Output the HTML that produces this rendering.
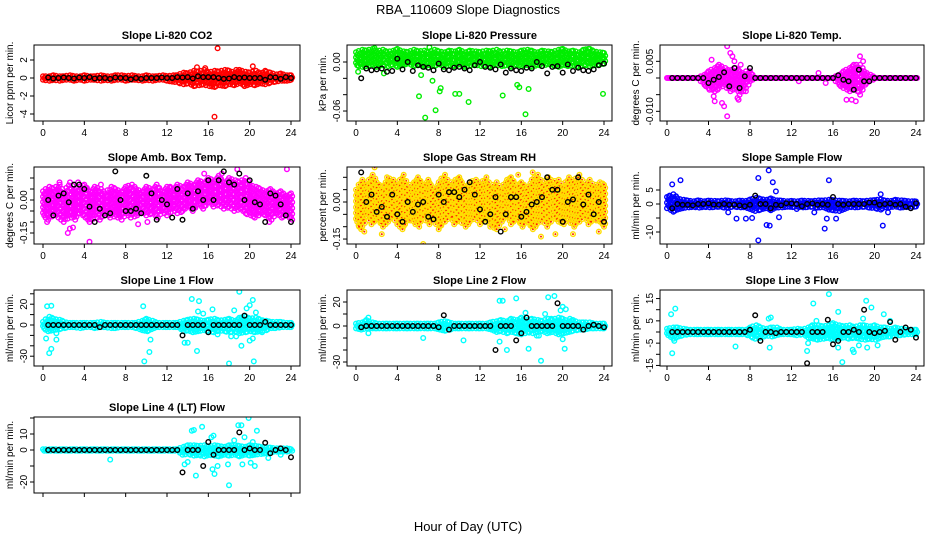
<!DOCTYPE html>
<html><head><meta charset="utf-8"><style>
html,body{margin:0;padding:0;background:#fff}
svg{display:block}
text{font-family:"Liberation Sans",Arial,sans-serif}
</style></head><body>
<svg id="chart" width="936" height="540" viewBox="0 0 936 540" xmlns="http://www.w3.org/2000/svg">
<text x="468" y="14" text-anchor="middle" font-size="13">RBA_110609  Slope Diagnostics</text>
<text x="468" y="531" text-anchor="middle" font-size="13">Hour of Day (UTC)</text>
</svg>
<script>
const T=[0,0.5,1,1.5,2,2.5,3,3.5,4,4.5,5,5.5,6,6.5,7,7.5,8,8.5,9,9.5,10,10.5,11,11.5,12,12.5,13,13.5,14,14.5,15,15.5,16,16.5,17,17.5,18,18.5,19,19.5,20,20.5,21,21.5,22,22.5,23,23.5,24];
const xTicks=[0,4,8,12,16,20,24];
// P1 CO2
const p1Hi=[0.2,0.2,0.3,0.2,0.2,0.3,0.2,0.2,0.3,0.2,0.2,0.3,0.2,0.2,0.3,0.3,0.2,0.3,0.2,0.2,0.3,0.2,0.2,0.3,0.2,0.3,0.3,0.6,0.5,0.8,0.7,0.9,0.6,0.8,0.7,0.9,0.8,0.6,0.9,0.7,0.6,0.8,0.5,0.7,0.6,0.4,0.5,0.3,0.3];
const p1Mid=[0,0.1,-0.1,0,0.1,-0.1,0,0.1,-0.1,0,0.1,-0.1,0,0.1,-0.1,0,0.1,-0.1,0,0.1,-0.1,0,0.1,-0.1,0,0.1,-0.1,0.3,-0.3,0.2,-0.4,0.3,-0.2,0.4,-0.3,0.2,-0.4,0.3,-0.2,0.3,-0.3,0.2,-0.2,0.3,-0.2,0.1,-0.1,0.1,0];
const p1Lo=[-0.2,-0.3,-0.2,-0.3,-0.2,-0.2,-0.3,-0.2,-0.3,-0.2,-0.2,-0.3,-0.2,-0.3,-0.2,-0.2,-0.3,-0.2,-0.2,-0.3,-0.2,-0.3,-0.2,-0.2,-0.3,-0.4,-0.5,-0.7,-0.6,-0.9,-0.8,-0.7,-0.9,-1.0,-0.8,-0.9,-0.7,-0.8,-0.6,-0.9,-0.7,-0.8,-0.6,-0.7,-0.5,-0.4,-0.3,-0.3,-0.2];
const p1Out=[[16.9,3.3],[16.6,-4.3],[14.9,1.2],[20.3,1.3],[21.5,0.8],[15.7,1.1],[13.8,0.5],[18.7,0.9]];
const p1Blk=[null,0.05,-0.05,0,0.05,0,-0.05,0.05,0,0.1,-0.05,0,0,-0.1,0.05,0,0,-0.15,0,-0.1,0,0,0,0.05,0,0,0.1,0.05,0.1,-0.05,0.2,0.1,0.1,0.1,0,-0.1,-0.05,0.1,0,0.05,0,0,0,-0.2,0.1,0.05,-0.1,0.1,0];
// P2 Pressure
const p2Hi=[0.012,0.015,0.014,0.016,0.013,0.015,0.012,0.014,0.016,0.013,0.012,0.015,0.013,0.014,0.012,0.015,0.013,0.012,0.014,0.013,0.015,0.012,0.014,0.013,0.012,0.014,0.013,0.015,0.012,0.014,0.013,0.012,0.014,0.015,0.013,0.012,0.014,0.013,0.012,0.015,0.016,0.013,0.014,0.012,0.015,0.016,0.013,0.012,0.011];
const p2Mid=[0.004,0.006,0.003,0.005,0.004,0.006,0.003,0.005,0.004,0.006,0.003,0.005,0.004,0.005,0.003,0.006,0.004,0.005,0.003,0.006,0.004,0.005,0.003,0.006,0.004,0.005,0.003,0.004,0.006,0.003,0.005,0.004,0.006,0.003,0.005,0.004,0.006,0.003,0.005,0.004,0.006,0.003,0.005,0.004,0.006,0.003,0.005,0.004,0.005];
const p2Lo=[-0.004,-0.006,-0.005,-0.003,-0.006,-0.004,-0.005,-0.003,-0.006,-0.004,-0.002,-0.005,-0.003,-0.006,-0.004,-0.005,-0.003,-0.006,-0.004,-0.005,-0.003,-0.006,-0.004,-0.003,-0.005,-0.004,-0.006,-0.003,-0.005,-0.004,-0.006,-0.003,-0.005,-0.004,-0.006,-0.003,-0.005,-0.002,-0.004,-0.006,-0.003,-0.005,-0.004,-0.006,-0.003,-0.005,-0.004,-0.003,-0.002];
const p2Out=[[6.7,-0.068],[7.7,-0.059],[6.1,-0.042],[8.2,-0.032],[8.1,-0.036],[7.4,-0.023],[9.6,-0.039],[10.0,-0.039],[10.9,-0.049],[14.2,-0.041],[16.4,-0.064],[15.6,-0.028],[15.8,-0.031],[16.7,-0.033],[23.9,-0.039],[7.1,0.018],[1.8,0.017],[17.0,0.014],[0.2,-0.012],[2.7,-0.014],[6.3,-0.016],[22.5,0.016]];
const p2Blk=[null,-0.02,-0.008,-0.01,-0.009,-0.008,-0.012,-0.011,0.004,-0.009,0.0,-0.011,-0.004,-0.006,-0.007,-0.01,-0.002,-0.009,-0.01,-0.007,-0.006,-0.008,-0.01,-0.004,0.0,-0.006,-0.007,-0.009,-0.003,-0.013,-0.008,-0.01,-0.011,-0.007,-0.008,0.0,-0.005,-0.014,-0.006,-0.005,-0.013,-0.003,-0.011,-0.007,-0.01,-0.011,-0.009,-0.004,-0.002];
// P3 Temp
const p3Hi=[0,0,0,0,0,0,0,0.001,0.002,0.003,0.004,0.003,0.002,0.003,0.002,0.001,0.002,0,0,0,0,0,0,0,0,0,0,0,0,0,0,0,0,0.001,0.002,0.003,0.004,0.004,0.002,0.001,0,0,0,0,0,0,0,0,0];
const p3Mid=[0,0,0,0,0,0,0,-0.001,0.001,-0.001,0.001,0.0015,-0.001,0.001,-0.002,0.002,0.001,0,0,0,0,0,0,0,0,0,0,0,0,0,0,0,0,0.001,-0.001,0.001,-0.002,0.001,0.002,-0.001,0,0,0,0,0,0,0,0,0];
const p3Lo=[0,0,0,0,0,0,0,-0.002,-0.003,-0.004,-0.003,-0.002,-0.004,-0.003,-0.005,-0.003,-0.001,0,0,0,0,0,0,0,0,0,0,0,0,0,0,0,0,-0.002,-0.003,-0.004,-0.003,-0.005,-0.002,-0.001,0,0,0,0,0,0,0,0,0];
const p3Out=[[5.8,0.0095],[6.1,0.0075],[6.3,0.0065],[6.5,0.005],[5.8,-0.0115],[4.5,-0.0055],[4.6,-0.007],[5.3,-0.0075],[5.5,-0.0085],[6.8,-0.006],[6.9,-0.0065],[4.3,0.0055],[7.1,0.004],[17.3,-0.0065],[17.8,-0.0065],[18.2,-0.007],[18.6,0.0065],[18.9,0.005],[4.1,-0.0035],[7.6,-0.004],[14.6,0.0015],[15.3,-0.0015],[12.7,-0.001]];
const p3Blk=[null,0,0,0,0,0,0,0,-0.0015,-0.0005,0.0003,0.0017,-0.0025,0.003,-0.003,0.0005,0.003,0,0,0,0,0,0,0,0,0,0,0,0,0,0,0,0,0.0008,-0.0005,-0.001,-0.0035,0.0025,-0.001,-0.001,0,0,0,0,0,0,0,0,0];
// P4 Amb box
const p4Hi=[0.04,0.06,0.05,0.07,0.03,0.08,0.05,0.06,0.07,0.04,0.06,0.05,0.03,0.06,0.05,0.04,0.06,0.07,0.05,0.04,0.06,0.05,0.07,0.04,0.06,0.05,0.07,0.06,0.08,0.07,0.09,0.08,0.10,0.09,0.11,0.08,0.10,0.09,0.08,0.10,0.07,0.06,0.05,0.04,0.05,0.03,0.04,0.02,0.03];
const p4Mid=[-0.02,0.01,-0.03,0.0,-0.01,0.02,-0.02,0.01,-0.03,0.0,0.02,-0.01,0.0,-0.02,0.01,-0.03,0.0,0.01,-0.02,0.0,0.02,-0.01,0.01,0.02,0.0,0.03,0.01,0.03,0.02,0.04,0.03,0.05,0.04,0.06,0.03,0.05,0.04,0.02,0.03,0.0,-0.01,-0.02,0.0,-0.03,-0.02,-0.04,-0.02,-0.05,-0.03];
const p4Lo=[-0.07,-0.09,-0.06,-0.08,-0.10,-0.07,-0.09,-0.06,-0.08,-0.10,-0.07,-0.09,-0.06,-0.08,-0.07,-0.09,-0.06,-0.08,-0.07,-0.05,-0.07,-0.06,-0.08,-0.05,-0.07,-0.04,-0.06,-0.05,-0.03,-0.05,-0.02,-0.04,-0.01,-0.03,-0.02,-0.04,-0.03,-0.05,-0.04,-0.06,-0.07,-0.08,-0.06,-0.07,-0.09,-0.06,-0.08,-0.07,-0.09];
const p4Out=[[2.4,-0.15],[2.6,-0.13],[2.9,-0.125],[4.5,-0.19],[9.2,-0.11],[10.1,-0.1],[3.4,0.08],[18.8,0.14],[23.6,0.14],[15.6,0.12],[0.3,0.03],[1.6,0.08],[17.3,0.12],[0.4,-0.1],[5.6,0.07],[12.3,0.06],[21.9,-0.1]];
const p4Blk=[null,0.0,-0.07,0.02,0.03,-0.01,0.07,0.07,0.05,-0.03,-0.1,-0.04,-0.07,-0.06,0.13,0.0,-0.05,-0.05,-0.04,-0.06,0.11,0.03,-0.09,0.0,-0.02,-0.08,0.05,-0.09,0.03,-0.04,0.04,0.0,0.09,0.0,0.09,0.13,0.08,0.07,0.12,0.0,0.09,-0.01,-0.02,-0.1,0.03,0.02,-0.02,-0.07,-0.1];
// P5 RH
const p5Hi=[0.05,0.09,0.07,0.11,0.08,0.06,0.10,0.09,0.07,0.11,0.06,0.08,0.10,0.07,0.09,0.05,0.08,0.11,0.07,0.09,0.10,0.06,0.08,0.09,0.07,0.10,0.06,0.08,0.05,0.09,0.10,0.07,0.08,0.06,0.09,0.11,0.07,0.10,0.08,0.09,0.06,0.10,0.08,0.11,0.07,0.09,0.06,0.08,0.07];
const p5Mid=[0.02,-0.01,0.03,0.0,-0.02,0.04,0.01,-0.03,0.02,0.0,0.04,-0.01,0.02,-0.03,0.01,0.03,-0.02,0.0,0.04,-0.01,0.02,0.0,-0.02,0.03,0.01,-0.01,0.02,-0.03,0.0,0.03,-0.02,0.01,0.04,-0.01,0.02,0.0,-0.03,0.02,0.01,0.04,-0.02,0.0,0.03,-0.01,0.02,0.0,-0.02,0.03,0.0];
const p5Lo=[-0.08,-0.11,-0.06,-0.09,-0.07,-0.10,-0.08,-0.06,-0.09,-0.11,-0.07,-0.08,-0.10,-0.06,-0.09,-0.07,-0.11,-0.08,-0.06,-0.09,-0.07,-0.10,-0.08,-0.06,-0.09,-0.07,-0.10,-0.11,-0.08,-0.06,-0.09,-0.07,-0.10,-0.08,-0.11,-0.09,-0.07,-0.10,-0.06,-0.08,-0.09,-0.07,-0.10,-0.08,-0.06,-0.09,-0.07,-0.08,-0.10];
const p5Out=[[1.8,0.14],[6.5,-0.17],[2.5,-0.13],[0.3,-0.1],[0.8,-0.12],[14.4,-0.11],[17.9,-0.14],[19.3,-0.13],[21,-0.13],[15.7,0.11],[23.5,-0.12],[9.3,-0.06],[17.1,0.12]];
const p5Blk=[null,0.12,0.0,0.03,-0.04,-0.02,-0.06,0.03,-0.05,-0.08,0.0,-0.04,-0.01,0.0,-0.06,-0.07,0.03,0.0,0.04,0.04,0.02,0.05,0.08,0.03,-0.03,-0.08,-0.05,0.02,-0.12,-0.05,0.02,0.02,-0.06,-0.04,-0.01,0.0,0.02,0.1,0.05,0.05,-0.08,0.0,0.01,0.1,-0.01,0.03,-0.05,0.0,-0.08];
// P6 Sample flow
const p6Hi=[2.5,3.5,2.0,1.5,1.2,1.0,1.3,1.0,1.2,1.1,1.0,1.3,1.1,1.0,1.2,1.1,1.6,2.2,1.8,1.5,2.0,1.3,1.2,1.0,1.1,1.0,1.2,1.1,1.0,1.3,1.2,1.5,1.4,1.2,1.1,1.0,1.2,1.1,1.0,1.3,1.4,1.6,1.2,1.1,1.5,1.3,1.1,1.0,0.9];
const p6Mid=[0.3,-0.5,0.5,-0.3,0.2,-0.2,0.3,-0.3,0.2,-0.2,0.3,-0.2,0.2,-0.3,0.2,-0.2,0.5,-0.6,0.4,-0.5,0.5,-0.3,0.2,-0.2,0.3,-0.2,0.2,-0.3,0.2,-0.2,0.3,-0.4,0.3,-0.5,0.3,-0.2,0.2,-0.3,0.2,-0.2,0.3,-0.4,0.2,-0.2,0.3,-0.2,0.2,-0.2,0.3];
const p6Lo=[-1.5,-2.8,-2.0,-1.5,-1.2,-1.0,-1.3,-1.0,-1.2,-1.1,-1.0,-1.3,-1.1,-1.0,-1.2,-1.1,-1.8,-2.5,-2.0,-1.5,-2.2,-1.3,-1.2,-1.0,-1.1,-1.0,-1.2,-1.1,-1.0,-1.3,-1.2,-2.0,-2.2,-2.5,-1.8,-1.0,-1.2,-1.1,-1.0,-1.3,-1.5,-2.0,-1.2,-1.1,-1.0,-1.3,-1.1,-1.0,-0.9];
const p6Out=[[0.5,7],[1.3,8.5],[9.8,12],[8.8,9.3],[10.2,7.8],[10.5,4.5],[15.6,8.5],[8.8,-13],[9.6,-7.5],[9.9,-7.7],[8.2,-5],[7.6,-5.2],[6.7,-5.2],[5.9,-3],[10.8,-4.7],[15.2,-8.8],[15.4,-5.2],[16.3,-5.2],[20.8,-7.7],[20.6,3.5],[21.3,-3],[0.2,2.8],[14.2,-3],[12.5,-1.8]];
const p6Blk=[null,-1.5,0,-0.3,-0.3,-0.5,0,0,0.2,-0.2,-0.3,0,-0.3,-0.3,-0.5,-0.8,-0.3,3.0,0,0,-1.5,-0.3,-0.5,0.3,0.2,0,-0.8,0,0.2,-0.3,0,-0.3,2.5,0,-0.3,0,0,0,0,0.5,0.5,-0.3,0,0.2,-0.3,0,-1.0,-1.5,0.3];
// P7 Line 1
const p7Hi=[3,8,6,5,3,2,2,2,2,2,2,3,2,2,2,2,2,2,2,4,6,4,2,2,2,2,2,4,5,6,5,4,5,6,4,5,6,4,7,8,6,7,5,4,3,3,3,2,2];
const p7Mid=[0,-3,2,-2,1,-1,0,1,-1,0,1,-1,0,1,-1,0,1,-1,0,-3,2,-3,1,-1,0,1,-1,-4,3,-5,2,-3,-4,3,-5,2,-3,4,-5,3,-4,2,-3,1,-1,0,1,-1,0];
const p7Lo=[-3,-6,-5,-4,-3,-2,-2,-3,-2,-2,-3,-2,-2,-3,-3,-2,-2,-2,-3,-5,-6,-4,-2,-2,-2,-2,-2,-6,-5,-7,-6,-5,-6,-7,-5,-6,-7,-6,-8,-7,-6,-7,-6,-5,-3,-3,-2,-2,-2];
const p7Out=[[0.4,18],[0.8,18.5],[0.3,-13],[0.6,-27],[0.8,-23],[1.3,-14],[9.7,18],[9.8,-35],[10.3,-26],[10.4,-14],[13.7,-17],[14,-17],[14.4,25],[14.9,-25],[15.1,23],[15,13],[15.5,11],[16.4,15],[18,-37],[19,32],[18.5,14],[19.2,-20],[19.7,16],[20,19],[20.3,24],[20.4,-35],[20.6,12],[20,-15],[20.3,-13],[21.2,-7],[1.3,-8],[16.9,-9],[18.2,-11],[18.7,-11]];
const p7Blk=[null,0,0,0,0,0,0,0,0,0,0,-2,0,0,0,0,0,0,0,0,0,0,0,0,0,0,0,-10,0,0,0,0,-7,0,0,0,0,0,0,9,0,0,0,3,0,0,0,0,0];
// P8 Line 2
const p8Hi=[2,3,5,3,2,2,2,2,2,2,2,2,2,2,2,2,3,4,3,2,2,2,2,2,2,2,3,4,5,4,6,5,7,5,6,5,4,6,5,7,6,4,5,3,3,3,2,2,2];
const p8Mid=[0,-1,1,-1,0,1,-1,0,1,-1,0,1,-1,0,1,-1,1,-2,1,-1,0,1,-1,0,1,-1,0,-2,2,-3,2,-2,3,-2,2,-3,2,-2,3,-2,2,-2,1,-1,0,1,-1,0,0];
const p8Lo=[-2,-3,-2,-2,-2,-2,-2,-2,-2,-2,-2,-2,-2,-2,-2,-2,-3,-4,-3,-2,-2,-2,-2,-2,-2,-2,-3,-5,-4,-6,-5,-6,-7,-5,-6,-5,-4,-6,-5,-7,-6,-5,-4,-3,-3,-2,-2,-2,-2];
const p8Out=[[1.2,7],[1.2,-6],[6.5,-10],[10.4,-12],[13.9,21],[14.2,21],[13.9,-13],[14.6,-20],[15.5,23],[16.7,-19],[16.4,11],[17.9,-29],[17.7,-8],[17.5,-8],[18.6,24],[19.2,25],[19.8,13],[20,-11],[20.2,-19],[20,16],[20.3,14],[18.3,10],[18.9,6],[20.7,6]];
const p8Blk=[null,-1,0,0,0,0,0,0,0,0,0,0,0,0,0,0,-1,9,-3,0,0,0,0,0,0,0,0,-20,0,0,0,-12,-6,7,0,0,0,0,0,19,0,0,0,0,-3,0,1,0,-1];
// P9 Line 3
const p9Hi=[1.5,2,2,1.5,1,1,1,1,1,1,1,1,1,1,1,1,2,3,2,1.5,2,2,1,1,1,1.5,1,2,3,3,2.5,3,4,3,2.5,3,2,3,3,2.5,3,2,2,1.5,2,1.5,1,1,1];
const p9Mid=[0,-1,0.5,-0.5,0,0.5,-0.5,0,0.5,-0.5,0,0.5,-0.5,0,0.5,-0.5,0,-1.5,1,-1,0.5,-1,0,0.5,-0.5,0,0.5,-1,1,-1.5,0.5,-1,1,-1.5,0.5,-1,1,-0.5,1,-1.5,0.5,-1,0.5,-0.5,0,0.5,-0.5,0,0];
const p9Lo=[-1.5,-3,-2,-1.5,-1,-1,-1,-1,-1,-1,-1,-1,-1,-1,-1,-1,-2,-3,-2.5,-1.5,-2,-1.5,-1,-1,-1,-1.5,-1,-2.5,-3,-3.5,-3,-2.5,-3.5,-3,-2.5,-3,-2.5,-3,-3.5,-3,-3.5,-2.5,-2,-2,-1.5,-1.5,-1,-1,-1];
const p9Out=[[0.4,8],[0.8,10.5],[0.5,-9.5],[0.7,-4],[6.6,-6.5],[9.8,6],[10,6.5],[9.9,-7],[14.1,12.8],[15.6,17],[16.5,9],[16.9,-13.5],[16.5,-7],[13.5,-8.5],[14.4,5],[17.9,-8],[18,-9],[18.5,-6],[18.9,6],[19.2,14],[19.7,11],[20.3,-6],[20.9,8],[21.5,5],[19.3,-7],[13.6,-5]];
const p9Blk=[null,0,0,0,0,0,0,0,0,0,0,0,0,0,0,0,1,7.5,-4,0,0,-0.5,0,0,0,0,0,-14,0,0,0,5.5,-5.5,-4,0,0,1,0,10,0,-0.5,0,0.5,4.5,-3.5,0,2,1,-2.5];
// P10 Line 4
const p10Hi=[0.5,0.5,0.5,0.5,0.5,0.5,0.5,0.5,0.5,0.5,0.5,0.5,0.5,0.5,0.5,0.5,0.5,0.5,0.5,0.5,0.5,0.5,0.5,0.5,0.5,0.5,0.5,2,3,3,2.5,3,2,3,2.5,2,3,3,2.5,2,3,2.5,2,1.5,1.5,1,1,1,0.5];
const p10Mid=[0,0,0,0,0,0,0,0,0,0,0,0,0,0,0,0,0,0,0,0,0,0,0,0,0,0,0,0,-1,1,-1.5,1,-1,1.5,-1,1,-1.5,1,-1,1.5,-1,1,-1,0.5,0,0.5,0,0,0];
const p10Lo=[-0.5,-0.5,-0.5,-0.5,-0.5,-0.5,-0.5,-0.5,-0.5,-0.5,-0.5,-0.5,-0.5,-0.5,-0.5,-0.5,-0.5,-0.5,-0.5,-0.5,-0.5,-0.5,-0.5,-0.5,-0.5,-0.5,-0.5,-3,-2.5,-3.5,-3,-4,-3,-3.5,-4,-3,-3.5,-3,-4,-3,-3.5,-3,-2.5,-2,-1.5,-1,-1,-1,-0.5];
const p10Out=[[6.5,-6],[13.7,-9],[14,-7.5],[14.4,12],[14.6,12.5],[14.8,-16],[15.4,14.5],[16.3,8],[16.5,9],[16.4,-12],[16.6,-15],[16.9,-10],[18,-22],[17.9,-9],[18.5,6],[18.9,15.5],[19.2,15.5],[19.5,8],[19.9,20],[19.3,-9],[20.1,-8],[20.3,5],[20.7,12],[20.5,-10],[21.8,-5],[23,-3]];
const p10Blk=[null,0,0,0,0,0,0,0,0,0,0,0,0,0,0,0,0,0,0,0,0,0,0,0,0,0,0,-14,0,0,0,-10,5,-3,0,0,0,0,11,0,1,0,0,4.5,-2,0,1,0,-4.5];

const NS='http://www.w3.org/2000/svg';
const svg=document.getElementById('chart');
function el(tag,attrs,parent){const e=document.createElementNS(NS,tag);for(const k in attrs)e.setAttribute(k,attrs[k]);(parent||svg).appendChild(e);return e;}

const cols=[{l:34,r:300,x0:43,x24:291},{l:347,r:612,x0:356,x24:604},{l:660,r:924,x0:667,x24:916}];
const rows=[{t:45,b:121},{t:167,b:244},{t:290,b:366},{t:417,b:493}];

const panels=[
 {name:'co2',title:'Slope Li-820 CO2',ylab:'Licor ppm per min.',c:0,r:0,y0:78,k:9,ticks:[-4,-2,0,2],labels:{'-4':'-4','-2':'-2','0':'0','2':'2'},color:'#ff0000',series:[p1Hi,p1Lo,p1Mid],out:p1Out,blk:p1Blk},
 {name:'pressure',title:'Slope Li-820 Pressure',ylab:'kPa per min.',c:1,r:0,y0:62,k:817,ticks:[0,-0.02,-0.04,-0.06],labels:{'0':'0.00','-0.06':'-0.06'},color:'#00ee00',series:[p2Hi,p2Lo,p2Mid],out:p2Out,blk:p2Blk},
 {name:'temp',title:'Slope Li-820 Temp.',ylab:'degrees C per min.',c:2,r:0,y0:78,k:3333,ticks:[0.005,0,-0.005,-0.01],labels:{'0.005':'0.005','-0.01':'-0.010'},color:'#ff00ff',series:[p3Hi,p3Lo,p3Mid],out:p3Out,blk:p3Blk},
 {name:'amb-box-temp',title:'Slope Amb. Box Temp.',ylab:'degrees C per min.',c:0,r:1,y0:200,k:220,ticks:[0.1,0.05,0,-0.05,-0.1,-0.15],labels:{'0':'0.00','-0.15':'-0.15'},color:'#ff00ff',series:[p4Hi,p4Lo,p4Mid],out:p4Out,blk:p4Blk},
 {name:'gas-stream-rh',title:'Slope Gas Stream RH',ylab:'percent per min.',c:1,r:1,y0:202,k:247,ticks:[0.1,0.05,0,-0.05,-0.1,-0.15],labels:{'0':'0.00','-0.15':'-0.15'},color:'#ffdd00',inner:'#ff2200',series:[p5Hi,p5Lo,p5Mid],out:p5Out,blk:p5Blk},
 {name:'sample-flow',title:'Slope Sample Flow',ylab:'ml/min per min.',c:2,r:1,y0:204,k:2.8,ticks:[5,0,-5,-10],labels:{'5':'5','0':'0','-10':'-10'},color:'#0000ff',series:[p6Hi,p6Lo,p6Mid],out:p6Out,blk:p6Blk},
 {name:'line-1-flow',title:'Slope Line 1 Flow',ylab:'ml/min per min.',c:0,r:2,y0:325,k:1.04,ticks:[30,20,10,0,-10,-20,-30],labels:{'20':'20','0':'0','-30':'-30'},color:'#00ffff',series:[p7Hi,p7Lo,p7Mid],out:p7Out,blk:p7Blk},
 {name:'line-2-flow',title:'Slope Line 2 Flow',ylab:'ml/min per min.',c:1,r:2,y0:326,k:1.2,ticks:[20,10,0,-10,-20,-30],labels:{'20':'20','0':'0','-30':'-30'},color:'#00ffff',series:[p8Hi,p8Lo,p8Mid],out:p8Out,blk:p8Blk},
 {name:'line-3-flow',title:'Slope Line 3 Flow',ylab:'ml/min per min.',c:2,r:2,y0:332,k:2.23,ticks:[15,10,5,0,-5,-10,-15],labels:{'15':'15','5':'5','-5':'-5','-15':'-15'},color:'#00ffff',series:[p9Hi,p9Lo,p9Mid],out:p9Out,blk:p9Blk},
 {name:'line-4-flow',title:'Slope Line 4 (LT) Flow',ylab:'ml/min per min.',c:0,r:3,y0:450,k:1.6,ticks:[20,10,0,-10,-20],labels:{'10':'10','0':'0','-20':'-20'},color:'#00ffff',series:[p10Hi,p10Lo,p10Mid],out:p10Out,blk:p10Blk,noXLabels:true}
];

panels.forEach(p=>{
  const C=cols[p.c],R=rows[p.r];
  const g=el('g',{});
  
  
  const xs=v=>C.x0+(C.x24-C.x0)*v/24;
  const ys=v=>p.y0-v*p.k;
  const t=el('text',{x:(C.l+C.r)/2,y:R.t-6,'text-anchor':'middle','font-size':'11','font-weight':'bold'},g);
  t.textContent=p.title;
  
  
  const clip='clip-'+p.name;
  const cp=el('clipPath',{id:clip},g);
  el('rect',{x:C.l,y:R.t,width:C.r-C.l,height:R.b-R.t},cp);
  const marks=el('g',{'clip-path':'url(#'+clip+')'},g);
  
  
  function dotPx(px,py,col,inner){
    const c=el('circle',{cx:px.toFixed(1),cy:py.toFixed(1),r:2.3,fill:'none',stroke:col,'stroke-width':1.4},marks);
    
    
    if(inner){el('circle',{cx:px.toFixed(1),cy:py.toFixed(1),r:1,fill:inner},marks);}
  }
  function dot(x,y,col,inner){dotPx(xs(x),ys(y),col,inner);}
  // dense cloud: fill the band spanned by the series at each time, interpolated between samples
  const [hi,lo,mid]=p.series;
  for(let i=0;i<T.length;i++){
    const subs=i<T.length-1?[0,0.5]:[0];
    subs.forEach(f=>{
      const j=i+(f?1:0);
      const vals=[hi,lo,mid].map(s=>s[i]*(1-f)+s[j]*f);
      const top=ys(Math.max(...vals)),bot=ys(Math.min(...vals));
      const px=xs(T[i]+f*0.5);
      const n=Math.max(1,Math.ceil((bot-top)/3));
      for(let m=0;m<=n;m++){
        const off=((i+m)%2)*1.2;
        dotPx(px+off,top+(bot-top)*m/n,p.color,p.inner);
      }
    });
  }
  p.out.forEach(o=>dot(o[0],o[1],p.color,p.inner));
  p.blk.forEach((v,i)=>{if(v!==null&&T[i]!==undefined)dot(T[i],v,'#000');});
  const box=el('rect',{x:C.l,y:R.t,width:C.r-C.l,height:R.b-R.t,fill:'none',stroke:'#000','stroke-width':1},g);
  
  
  xTicks.forEach(v=>{
    const x=xs(v);
    el('line',{x1:x,x2:x,y1:R.b,y2:R.b+4,stroke:'#000'},g);
    if(!p.noXLabels){const tl=el('text',{x:x,y:R.b+15,'text-anchor':'middle','font-size':'10'},g);tl.textContent=v;
      
      }
  });
  el('line',{x1:xs(0),x2:xs(24),y1:R.b,y2:R.b,stroke:'#000'},g);
  const tv=p.ticks.map(ys);
  el('line',{x1:C.l,x2:C.l,y1:Math.min(...tv),y2:Math.max(...tv),stroke:'#000'},g);
  p.ticks.forEach(v=>{
    const y=ys(v);
    el('line',{x1:C.l-4,x2:C.l,y1:y,y2:y,stroke:'#000'},g);
    const lab=p.labels[String(v)];
    if(lab!==undefined){const tl=el('text',{x:0,y:0,'text-anchor':'middle','font-size':'10',transform:`translate(${C.l-7},${y}) rotate(-90)`},g);tl.textContent=lab;
      
      }
  });
  const yl=el('text',{x:0,y:0,'text-anchor':'middle','font-size':'10',transform:`translate(${C.l-21},${(R.t+R.b)/2}) rotate(-90)`},g);
  yl.textContent=p.ylab;
  
  
});
</script>
</body></html>
